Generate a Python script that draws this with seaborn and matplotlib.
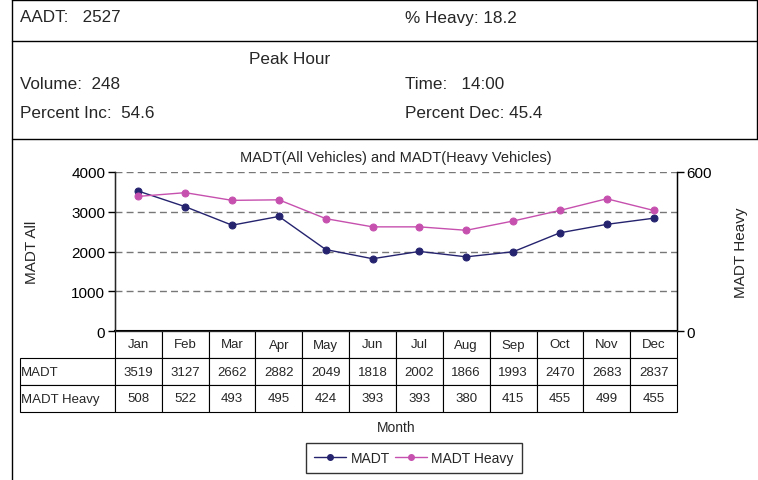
import numpy as np
import pandas as pd
import matplotlib
matplotlib.use("Agg")
import matplotlib.pyplot as plt
import seaborn as sns
from matplotlib.table import Table
from matplotlib.lines import Line2D

# data
months = ['Jan', 'Feb', 'Mar', 'Apr', 'May', 'Jun', 'Jul', 'Aug', 'Sep', 'Oct', 'Nov', 'Dec']
madt = [3519, 3127, 2662, 2882, 2049, 1818, 2002, 1866, 1993, 2470, 2683, 2837]
madt_heavy = [508, 522, 493, 495, 424, 393, 393, 380, 415, 455, 499, 455]

header_left = ['AADT:   2527', 'Volume:  248', 'Percent Inc:  54.6']
header_right = ['% Heavy: 18.2', 'Time:   14:00', 'Percent Dec: 45.4']

navy = '#25236E'
pink = '#C650AE'

sns.set_style('white')
plt.rcParams['font.family'] = ['Liberation Sans', 'DejaVu Sans']

W, H = 758, 481
fig = plt.figure(figsize=(W / 100, H / 100), dpi=100)

def fx(px):
    return px / W

def fy(py):
    return 1 - py / H

# --- header box ---
for y in [1, 42, 140]:
    fig.add_artist(Line2D([fx(12), fx(757)], [fy(y), fy(y)], color='black', lw=1))
fig.add_artist(Line2D([fx(12), fx(12)], [fy(0), fy(481)], color='black', lw=1))
fig.add_artist(Line2D([fx(757), fx(757)], [fy(0), fy(140)], color='black', lw=1))

ys = [18, 85, 114]
for txt, y in zip(header_left, ys):
    fig.text(fx(20), fy(y), txt, fontsize=12.3, va='center', ha='left')
for txt, y in zip(header_right, ys):
    fig.text(fx(405), fy(y), txt, fontsize=12.3, va='center', ha='left')
fig.text(fx(290), fy(60), 'Peak Hour', fontsize=12.3, va='center', ha='center')

# --- chart ---
ax = fig.add_axes([fx(115), fy(332), fx(677) - fx(115), fy(173) - fy(332)])
df = pd.DataFrame({'pos': np.arange(len(months)), 'MADT': madt, 'MADT Heavy': madt_heavy})

sns.lineplot(data=df, x='pos', y='MADT', ax=ax, color=navy, marker='o', markersize=5,
             markeredgecolor=navy, linewidth=1, legend=False, zorder=3)
ax.set_xlim(-0.5, len(months) - 0.5)
ax.set_ylim(0, 4000)
ax.set_yticks([0, 1000, 2000, 3000, 4000])
ax.yaxis.grid(True, linestyle=(0, (5, 3)), color='#777777', linewidth=1)
ax.set_axisbelow(True)
ax.set_xticks([])
ax.tick_params(axis='y', length=5, width=1, direction='out', left=True, labelsize=11, pad=2, colors='black')
for s in ['left', 'bottom', 'right']:
    ax.spines[s].set_color('black')
ax.spines['top'].set_visible(False)
ax.spines['bottom'].set_linewidth(1.5)
ax.spines['left'].set_linewidth(1)
ax.set_ylabel('MADT All', fontsize=11)
ax.yaxis.set_label_coords((39 - 115) / 562, 0.5)
ax.set_xlabel('Month', fontsize=10)
ax.xaxis.set_label_coords(0.5, (332 - 421) / 159)
ax.text(0.5, (332 - 158) / 159, 'MADT(All Vehicles) and MADT(Heavy Vehicles)',
        transform=ax.transAxes, ha='center', va='center', fontsize=10.5)

ax2 = ax.twinx()
sns.lineplot(data=df, x='pos', y='MADT Heavy', ax=ax2, color=pink, marker='o', markersize=5,
             markeredgecolor=pink, linewidth=1, legend=False)
ax2.set_ylim(0, 600)
ax2.set_yticks([0, 600])
ax2.tick_params(axis='y', length=5, width=1, direction='out', right=True, labelsize=11, pad=2, colors='black')
ax2.spines['top'].set_visible(False)
ax2.spines['right'].set_color('black')
ax2.spines['right'].set_linewidth(1)
ax2.set_ylabel('MADT Heavy', fontsize=11)
ax2.yaxis.set_label_coords((734 - 115) / 562, 0.5)
ax2.set_xlim(-0.5, len(months) - 0.5)

# --- data table under the axis ---
label_w = 95 / 562
col_w = 1 / len(months)
tb = Table(ax, bbox=[-label_w, -81 / 159, 1 + label_w, 81 / 159])
corner = tb.add_cell(0, 0, width=label_w, height=1, text='')
corner.visible_edges = ''
for j, m in enumerate(months, start=1):
    tb.add_cell(0, j, width=col_w, height=1, text=m, loc='center')
rows = [('MADT', madt), ('MADT Heavy', madt_heavy)]
for i, (name, vals) in enumerate(rows, start=1):
    c = tb.add_cell(i, 0, width=label_w, height=1, text=name, loc='left')
    c.PAD = 0.01
    for j, v in enumerate(vals, start=1):
        tb.add_cell(i, j, width=col_w, height=1, text=str(v), loc='center')
tb.auto_set_font_size(False)
tb.set_fontsize(9.5)
for cell in tb.get_celld().values():
    cell.set_linewidth(0.8)
ax.add_table(tb)

# --- legend ---
handles = [Line2D([], [], color=navy, marker='o', markersize=4, lw=1),
           Line2D([], [], color=pink, marker='o', markersize=4, lw=1)]
leg = fig.legend(handles, ['MADT', 'MADT Heavy'], loc='center', bbox_to_anchor=(fx(414), fy(459)),
                 ncol=2, frameon=True, fancybox=False, fontsize=10, handlelength=2.3,
                 columnspacing=0.4, handletextpad=0.3, borderpad=0.6)
leg.get_frame().set_edgecolor('black')
leg.get_frame().set_linewidth(1)

fig.savefig('out.png', dpi=100)
